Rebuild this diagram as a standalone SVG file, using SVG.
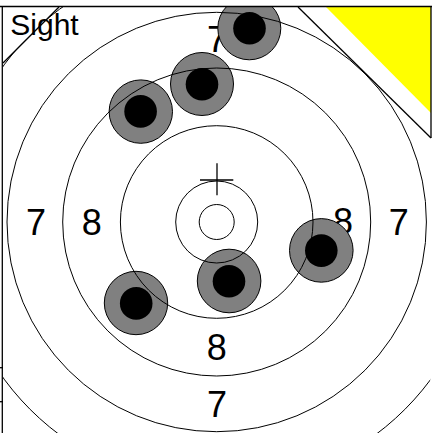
<svg xmlns="http://www.w3.org/2000/svg" width="432" height="433" viewBox="0 0 432 433">
<defs>
<style>
.ring{fill:none;stroke:#000;stroke-width:1}
.line{fill:none;stroke:#000;stroke-width:1.3}
.num{font-family:"Liberation Sans",Arial,sans-serif;font-size:36px;fill:#000;text-anchor:middle}
.lbl{font-family:"Liberation Sans",Arial,sans-serif;font-size:30px;fill:#000}
.outer{fill:#808080;stroke:#000;stroke-width:1}
.inner{fill:#000}
</style>
<clipPath id="frame"><rect x="2" y="7" width="430" height="426"/></clipPath>
<clipPath id="outerClip"><polygon points="3,62 59,7 298,7 431,138 430,433 3,433"/></clipPath>
</defs>
<rect width="432" height="433" fill="#fff"/>
<g id="corner">
<polygon points="298,7 431,7 431,138" fill="#fff"/>
<polygon points="326,7 431,7 431,113" fill="#ffff00"/>
<line class="line" x1="298" y1="7" x2="431" y2="138"/>
<line class="line" x1="431" y1="7" x2="431" y2="138"/>
<line class="line" x1="59" y1="7" x2="3" y2="63"/>
</g>
<g id="numbers">
<text class="num" x="36" y="234.5">7</text>
<text class="num" x="91.7" y="234.5">8</text>
<text class="num" x="343" y="234">8</text>
<text class="num" x="398.7" y="234.5">7</text>
<text class="num" x="216.7" y="359.5">8</text>
<text class="num" x="217" y="416.7">7</text>
<text class="num" x="217" y="51.5">7</text>
</g>
<g id="holes" clip-path="url(#frame)">
<g id="hole1"><circle class="outer" cx="249.3" cy="28.3" r="31.5"/><circle class="inner" cx="249.5" cy="28.2" r="16.3"/></g>
<g id="hole2"><circle class="outer" cx="202" cy="84" r="31.5"/><circle class="inner" cx="202" cy="84.2" r="16.3"/></g>
<g id="hole3"><circle class="outer" cx="140.8" cy="111.6" r="31.7"/><circle class="inner" cx="140.6" cy="111.4" r="16.3"/></g>
<g id="hole4"><circle class="outer" cx="136" cy="303" r="31.7"/><circle class="inner" cx="136.2" cy="303.4" r="16.3"/></g>
<g id="hole5"><circle class="outer" cx="229.1" cy="281" r="31.8"/><circle class="inner" cx="229" cy="281.2" r="16.3"/></g>
<g id="hole6"><circle class="outer" cx="321.3" cy="250.4" r="31.8"/><circle class="inner" cx="321.3" cy="250.6" r="16.3"/></g>
</g>
<g id="rings" clip-path="url(#frame)">
<circle class="ring" cx="216.7" cy="222" r="17.5"/>
<circle class="ring" cx="216.7" cy="222" r="41"/>
<circle class="ring" cx="216.7" cy="222" r="96.3"/>
<circle class="ring" cx="216.7" cy="222" r="154"/>
<circle class="ring" cx="216.7" cy="222" r="209.7"/>
<circle class="ring" cx="217.5" cy="222" r="265" clip-path="url(#outerClip)"/>
</g>
<g id="sight">
<line class="line" x1="217" y1="163.3" x2="217" y2="195.3"/>
<line class="line" x1="200" y1="180" x2="233.3" y2="180"/>
</g>
<g id="frameLines">
<line class="line" x1="0" y1="6.5" x2="432" y2="6.5"/>
<line class="line" x1="2.3" y1="6" x2="2.3" y2="433"/>
<line class="line" x1="0" y1="367.7" x2="3" y2="367.7"/>
<line class="line" x1="0" y1="401.7" x2="3" y2="401.7"/>
</g>
<text class="lbl" x="10.3" y="35">Sight</text>
</svg>
